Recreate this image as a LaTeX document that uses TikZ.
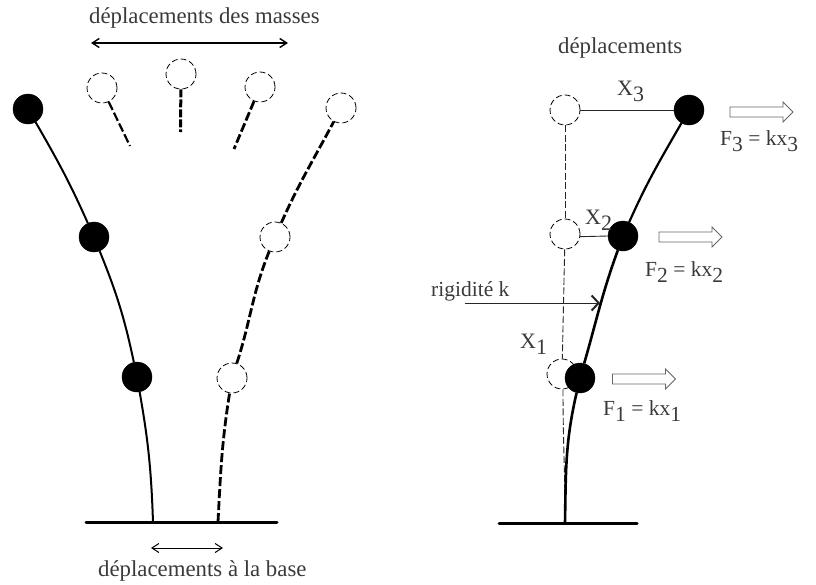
\documentclass[tikz,border=0pt]{standalone}
\usepackage{fontspec}
\setmainfont{Liberation Serif}
\usetikzlibrary{arrows.meta,shapes.arrows}
\definecolor{txt}{HTML}{3A3A3A}
\newcommand{\lowsub}[1]{\raisebox{-6pt}{#1}}
\tikzset{
  x=1pt,y=-1pt,
  mass/.style={circle,fill=black,draw=black,inner sep=0pt,minimum size=30pt},
  ghost/.style={circle,draw=black,fill=white,line width=0.8pt,dash pattern=on 6pt off 3pt,inner sep=0pt,minimum size=30pt},
  beam/.style={line width=2pt,black},
  dbeam/.style={line width=2.8pt,black,dash pattern=on 9pt off 3pt},
  ground/.style={line width=3pt,line cap=round,black},
  span/.style={line width=1.4pt,black,{Straight Barb[length=7pt,width=9pt]}-{Straight Barb[length=7pt,width=9pt]}},
  thinl/.style={line width=0.9pt,black!85},
  lab/.style={anchor=base west,inner sep=0pt,text=txt,font=\fontsize{22.8}{24}\selectfont},
  biglab/.style={anchor=base west,inner sep=0pt,text=txt,font=\fontsize{22}{24}\selectfont},
  forcelab/.style={anchor=base west,inner sep=0pt,text=txt,font=\fontsize{21.5}{24}\selectfont},
  hollow/.style={single arrow,draw=black!60,fill=white,line width=0.8pt,inner sep=4.5pt,minimum height=63pt,minimum width=20pt,single arrow head extend=5pt,single arrow head indent=0pt,anchor=center}
}
\begin{document}
\begin{tikzpicture}
\useasboundingbox (0,0) rectangle (816,584);
% left figure
\coordinate (gl) at (86,522); \coordinate (gr) at (277,522);
\coordinate (f1) at (153,522); \coordinate (f2) at (218,522);
\node[mass] (m1) at (137,377) {};
\node[mass] (m2) at (94,237) {};
\node[mass] (m3) at (28,109) {};
\node[ghost] (g1) at (232,378) {};
\node[ghost] (g2) at (275,237) {};
\node[ghost] (g3) at (341,108) {};
\node[ghost] (a) at (102,88) {};
\node[ghost] (b) at (181,74) {};
\node[ghost] (c) at (260,87) {};
\coordinate (ae) at (130,146); \coordinate (be) at (180.5,132); \coordinate (ce) at (234,149);
\draw[ground] (gl) -- (gr);
\draw[beam] (f1) to[out=92,in=-80] (m1);
\draw[beam] (m1) to[out=102,in=-68] (m2);
\draw[beam] (m2) to[out=114,in=-60] (m3);
\draw[dbeam] (f2) to[out=87,in=-99] (g1);
\draw[dbeam] (g1) to[out=72,in=-112] (g2);
\draw[dbeam] (g2) to[out=66,in=-118] (g3);
\draw[dbeam,line width=2.2pt] (a) -- (ae);
\draw[dbeam,line width=3pt,dash pattern=on 8pt off 2pt] (b) -- (be);
\draw[dbeam] (c) -- (ce);
\coordinate (t1) at (91,43); \coordinate (t2) at (288,43);
\draw[span] (t1) -- (t2);
\coordinate (b1) at (151,548); \coordinate (b2) at (223,548);
\draw[span,line width=1pt] (b1) -- (b2);
\node[lab] (tt) at (89,23) {déplacements des masses};
\node[lab] (bt) at (98,576) {déplacements à la base};
% right figure
\coordinate (gl2) at (499,523); \coordinate (gr2) at (637,523);
\coordinate (f3) at (565,523);
\draw[ground] (gl2) -- (gr2);
\node[ghost] (h3) at (565,110) {};
\node[ghost] (h2) at (565,234) {};
\node[ghost] (h1) at (562,374) {};
\draw[thinl,dash pattern=on 7pt off 2.5pt] (h3) -- (h2);
\draw[thinl,dash pattern=on 7pt off 2.5pt] (h2) -- (h1);
\draw[thinl,dash pattern=on 7pt off 2.5pt] (h1.south) ++(1,0) coordinate (h1b) to[out=-90,in=90] (f3);
\node[mass] (n1) at (580,378) {};
\node[mass] (n2) at (623,236) {};
\node[mass] (n3) at (689,110) {};
\draw[line width=2.6pt] (f3) to[out=89,in=-103] (n1);
\draw[line width=2.6pt] (n1) to[out=74,in=-110] (n2);
\draw[line width=2.2pt] (n2) to[out=66,in=-120] (n3);
\draw[thinl] (h3) -- (n3);
\draw[thinl] (h2.-10) -- (n2.west);
\coordinate (rs) at (465,303); \coordinate (re) at (600,303);
\draw[thinl,-{Straight Barb[length=7pt,width=15pt,line width=2pt]}] (rs) -- (re);
\node[hollow] (p3) at (759,112) {};
\node[hollow] (p2) at (688,237) {};
\node[hollow] (p1) at (641.5,379) {};
\node[lab] (dt) at (558,53) {déplacements};
\node[lab,font=\fontsize{21.5}{24}\selectfont] (rt) at (431,296) {rigidité k};
\node[biglab] (x3) at (617,95) {X\lowsub{3}};
\node[biglab] (x2) at (585,224) {X\lowsub{2}};
\node[biglab] (x1) at (520,348) {X\lowsub{1}};
\node[forcelab] (l3) at (720,145) {F\lowsub{3} = kx\lowsub{3}};
\node[forcelab] (l2) at (645,276) {F\lowsub{2} = kx\lowsub{2}};
\node[forcelab] (l1) at (603,415) {F\lowsub{1} = kx\lowsub{1}};
\end{tikzpicture}
\end{document}
